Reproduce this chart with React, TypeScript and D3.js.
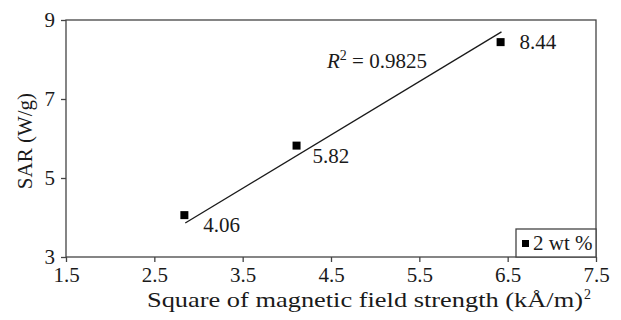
import React, { useEffect, useRef } from 'react';
import * as d3 from 'd3';

const fieldSq = [2.84, 4.11, 6.42];
const sar = [4.06, 5.82, 8.44];
const trendX = [2.85, 6.43];
const trendY = [3.86, 8.7];
const xTicks = [1.5, 2.5, 3.5, 4.5, 5.5, 6.5, 7.5];
const yTicks = [3, 5, 7, 9];
const legendLabel = '2 wt %';

const W = 621, H = 320;
const margin = { left: 66, right: 25, top: 20, bottom: 63 };
const font = '"Liberation Serif", "Times New Roman", serif';
const fs = 21;
const ink = '#1a1a1a';
const frame = '#444';

export default function App() {
    const svgRef = useRef<SVGSVGElement>(null);

    useEffect(() => {
        const svg = d3.select(svgRef.current);
        svg.selectAll('*').remove();
        const width = W - margin.left - margin.right,
              height = H - margin.top - margin.bottom;
        const x = d3.scaleLinear().domain([1.5, 7.5]).range([0, width]);
        const y = d3.scaleLinear().domain([3, 9]).range([height, 0]);
        const g = svg.append('g').attr('transform', `translate(${margin.left},${margin.top})`);

        // frame
        g.append('rect')
            .attr('width', width).attr('height', height)
            .attr('fill', 'none').attr('stroke', frame).attr('stroke-width', 1.3);

        const xAxis = d3.axisBottom(x).tickValues(xTicks).tickSizeOuter(0).tickSizeInner(5).tickPadding(5)
            .tickFormat(d3.format('.1f'));
        const yAxis = d3.axisLeft(y).tickValues(yTicks).tickSizeOuter(0).tickSizeInner(5).tickPadding(6)
            .tickFormat(d3.format('d'));
        const styleAxis = (a: any) => {
            a.select('.domain').remove();
            a.selectAll('line').attr('stroke', frame).attr('stroke-width', 1.3);
            a.selectAll('text').attr('font-family', font).attr('font-size', fs).attr('fill', ink);
        };
        g.append('g').attr('transform', `translate(0,${height})`).call(xAxis).call(styleAxis);
        g.append('g').call(yAxis).call(styleAxis);

        // axis titles (the source type is wider than Liberation Serif, so stretch it)
        svg.append('text')
            .attr('x', 147).attr('y', 307)
            .attr('textLength', 436).attr('lengthAdjust', 'spacingAndGlyphs')
            .attr('font-family', font).attr('font-size', fs).attr('fill', ink)
            .text('Square of magnetic field strength (kÅ/m)');
        svg.append('text')
            .attr('x', 584).attr('y', 299)
            .attr('font-family', font).attr('font-size', 14).attr('fill', ink)
            .text('2');

        svg.append('text')
            .attr('transform', `translate(32,141) rotate(-90)`)
            .attr('text-anchor', 'middle')
            .attr('font-family', font).attr('font-size', fs).attr('fill', ink)
            .text('SAR (W/g)');

        // trend line
        g.append('line')
            .attr('x1', x(trendX[0])).attr('y1', y(trendY[0]))
            .attr('x2', x(trendX[1])).attr('y2', y(trendY[1]))
            .attr('stroke', ink).attr('stroke-width', 1.3);

        // points
        const pts = fieldSq.map((v, i) => ({ x: v, y: sar[i] }));
        g.selectAll('.pt').data(pts).enter().append('rect')
            .attr('class', 'pt')
            .attr('x', d => x(d.x) - 4).attr('y', d => y(d.y) - 4)
            .attr('width', 8).attr('height', 8).attr('fill', '#000');
        g.selectAll('.pt-label').data(pts).enter().append('text')
            .attr('class', 'pt-label')
            .attr('x', (d, i) => x(d.x) + (i === 1 ? 16 : 19))
            .attr('y', (d, i) => y(d.y) + (i === 2 ? 7 : 17))
            .attr('font-family', font).attr('font-size', fs).attr('fill', ink)
            .text(d => d.y.toFixed(2));

        // R^2 label
        const r2 = g.append('text')
            .attr('x', 327 - margin.left).attr('y', 68 - margin.top)
            .attr('font-family', font).attr('font-size', fs).attr('fill', ink);
        r2.append('tspan').attr('font-style', 'italic').text('R');
        r2.append('tspan').attr('font-size', 14).attr('dy', -8).text('2');
        r2.append('tspan').attr('dy', 8).text(' = 0.9825');

        // legend
        const lx = 516 - margin.left, ly = height - 28;
        g.append('rect')
            .attr('x', lx).attr('y', ly).attr('width', width - lx).attr('height', 28)
            .attr('fill', '#fff').attr('stroke', frame).attr('stroke-width', 1.3);
        g.append('rect')
            .attr('x', lx + 6).attr('y', ly + 11).attr('width', 7).attr('height', 7).attr('fill', '#000');
        g.append('text')
            .attr('x', lx + 17).attr('y', ly + 21)
            .attr('font-family', font).attr('font-size', fs).attr('fill', ink)
            .text(legendLabel);
    }, []);

    return (
        <svg ref={svgRef} width={W} height={H}
            style={{ position: 'absolute', left: 0, top: 0, background: '#fff' }} />
    );
}
